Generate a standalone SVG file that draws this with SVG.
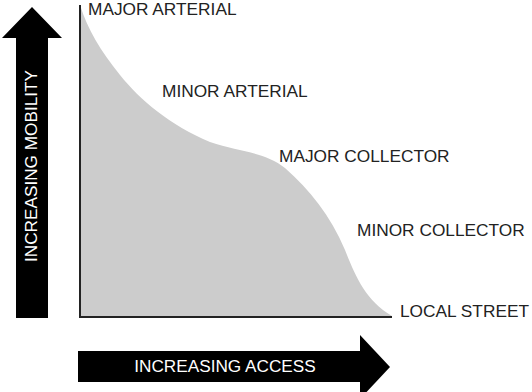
<svg xmlns="http://www.w3.org/2000/svg" width="532" height="392" viewBox="0 0 532 392">
<style>
.lbl{font-family:"Liberation Sans",Arial,sans-serif;font-size:17.3px;fill:#222}
.wlbl{font-family:"Liberation Sans",Arial,sans-serif;font-size:17.2px;fill:#fff}
.arrow{fill:#000}
</style>
<rect width="532" height="392" fill="#fff"/>
<g id="area">
<path d="M80,5 C88,30 100,50 120,75 C140,100 170,125 210,142 C240,152 265,152 285,168 C310,190 330,215 345,250 C355,275 365,300 392,316 L392,317 L80,317 Z" fill="#cccccc"/>
</g>
<g id="axes">
<path d="M80,5 V317 H392" fill="none" stroke="#222" stroke-width="2"/>
</g>
<g id="mobility-arrow">
<polygon class="arrow" points="16,318 48,318 48,38 62,38 32,7 2,38 16,38"/>
<text class="wlbl" transform="translate(37,166) rotate(-90)" text-anchor="middle">INCREASING MOBILITY</text>
</g>
<g id="access-arrow">
<polygon class="arrow" points="78,351 360,351 360,335 390,367 360,399 360,382 78,382"/>
<text class="wlbl" x="225" y="372" text-anchor="middle">INCREASING ACCESS</text>
</g>
<g id="labels">
<text class="lbl" x="88" y="15">MAJOR ARTERIAL</text>
<text class="lbl" x="162" y="97">MINOR ARTERIAL</text>
<text class="lbl" x="279" y="162">MAJOR COLLECTOR</text>
<text class="lbl" x="357" y="236">MINOR COLLECTOR</text>
<text class="lbl" x="400" y="317">LOCAL STREET</text>
</g>
</svg>
